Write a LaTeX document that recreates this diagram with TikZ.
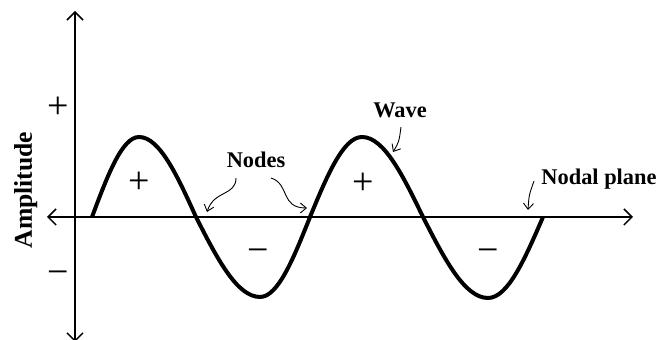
\documentclass[tikz,border=0pt]{standalone}
\usepackage{fontspec}
\setmainfont{Liberation Serif}
\usetikzlibrary{arrows.meta}

\begin{document}
\begin{tikzpicture}[x=0.5pt,y=-0.5pt,
  axis/.style={line width=0.75pt,{Straight Barb[length=4pt,width=8pt]}-{Straight Barb[length=4pt,width=8pt]}},
  wave/.style={line width=2pt,line join=round},
  pointer/.style={line width=0.45pt,-{Straight Barb[length=3pt,width=5pt]}},
  tag/.style={font=\fontsize{11.2}{13}\selectfont\bfseries,inner sep=0pt,anchor=base},
  sign/.style={font=\fontsize{19}{19}\selectfont,inner sep=0pt}
]
  \useasboundingbox (0,0) rectangle (659,340);

  \coordinate (ytop) at (75,11);
  \coordinate (ybot) at (75,342);
  \coordinate (xleft) at (47,217);
  \coordinate (xright) at (633,217);
  \draw[axis] (ybot) -- (ytop);
  \draw[axis] (xleft) -- (xright);

  \draw[wave] (92,217) sin (139,137) cos (196,217) sin (260,297) cos (310,217)
    sin (362,137) cos (423,217) sin (488,298) cos (543,217);

  \node[tag,font=\fontsize{12.8}{14}\selectfont\bfseries,rotate=90] (amp) at (32,190) {Amplitude};
  \node[sign] (yplus) at (58,108) {+};
  \node[sign] (yminus) at (58,278) {−};
  \node[sign] (lobea) at (139,183) {+};
  \node[sign] (lobeb) at (258,256) {−};
  \node[sign] (lobec) at (363,184) {+};
  \node[sign] (lobed) at (488,256) {−};

  \node[tag] (nodes) at (256,168) {Nodes};
  \node[tag] (wave) at (400,118) {Wave};
  \node[tag] (nodal) at (599,185) {Nodal plane};

  \coordinate (nodea) at (207,212);
  \coordinate (nodeb) at (307,208);
  \coordinate (crest) at (393,152);
  \coordinate (plane) at (528,210);

  \draw[pointer] ([shift={(-20,10)}]nodes.base) .. controls (236,196) and (214,190) .. (nodea);
  \draw[pointer] ([shift={(15,10)}]nodes.base) .. controls (290,184) and (280,208) .. (nodeb);
  \draw[pointer] ([shift={(1,9)}]wave.base) .. controls (399,142) .. (crest);
  \draw[pointer] ([shift={(-7,-4)}]nodal.base west) .. controls (529,195) .. (plane);
\end{tikzpicture}
\end{document}
